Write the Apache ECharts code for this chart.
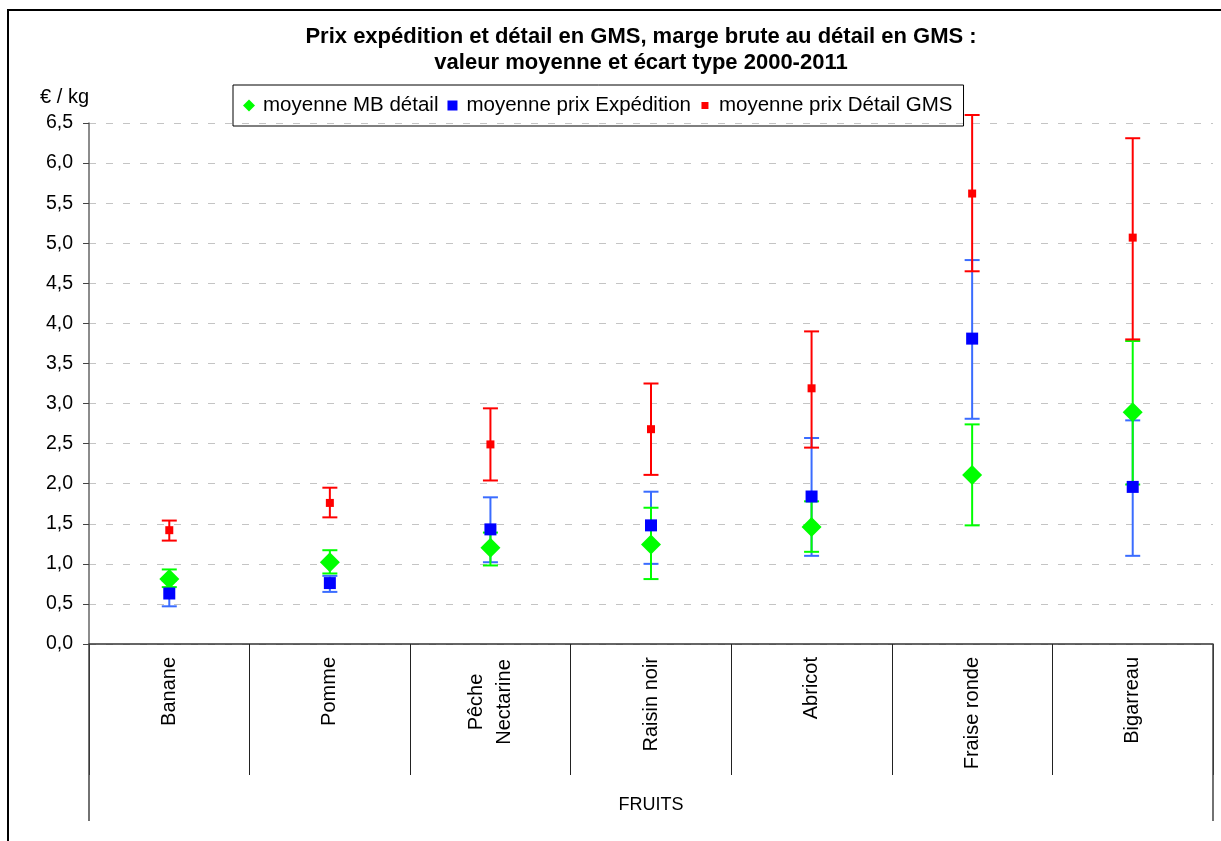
<!DOCTYPE html>
<html><head><meta charset="utf-8">
<script src="https://cdn.jsdelivr.net/npm/echarts@6/dist/echarts.min.js"></script>
<style>html,body{margin:0;padding:0;background:#fff}#c{width:1221px;height:841px}</style>
</head><body><div id="c"></div>
<script>
const categories = ['Banane', 'Pomme', 'Pêche\nNectarine', 'Raisin noir', 'Abricot', 'Fraise ronde', 'Bigarreau'];
const groupLabel = ['FRUITS'];
const yTicks = ['0,0','0,5','1,0','1,5','2,0','2,5','3,0','3,5','4,0','4,5','5,0','5,5','6,0','6,5'];

const mbMean = [0.81, 1.02, 1.20, 1.24, 1.46, 2.11, 2.89];
const mbLow  = [0.71, 0.88, 0.98, 0.81, 1.15, 1.48, 1.99];
const mbHigh = [0.93, 1.17, 1.39, 1.70, 1.78, 2.74, 3.78];

const expMean = [0.63, 0.76, 1.43, 1.48, 1.84, 3.81, 1.96];
const expLow  = [0.47, 0.65, 1.02, 1.00, 1.10, 2.81, 1.10];
const expHigh = [0.79, 0.85, 1.83, 1.90, 2.57, 4.79, 2.79];

const detMean = [1.42, 1.76, 2.49, 2.68, 3.19, 5.62, 5.07];
const detLow  = [1.29, 1.58, 2.04, 2.11, 2.45, 4.65, 3.80];
const detHigh = [1.54, 1.95, 2.94, 3.25, 3.90, 6.60, 6.31];

const names = ['moyenne MB détail', 'moyenne prix Expédition', 'moyenne prix Détail GMS'];
const FONT = '"Liberation Sans", Arial, sans-serif';

const chart = echarts.init(document.getElementById('c'), null, {renderer: 'canvas'});

function errSeries(id, low, high, color) {
  return {
    type: 'custom', name: id, silent: true, z: 2,
    data: categories.map((c, i) => [i, low[i], high[i]]),
    encode: {x: 0, y: [1, 2]},
    renderItem: function (params, api) {
      const i = api.value(0);
      const top = api.coord([i, api.value(2)]);
      const bot = api.coord([i, api.value(1)]);
      const hw = 7.5;
      const style = {stroke: color, lineWidth: 2};
      return {type: 'group', children: [
        {type: 'line', shape: {x1: top[0], y1: top[1], x2: bot[0], y2: bot[1]}, style: style},
        {type: 'line', shape: {x1: top[0] - hw, y1: top[1], x2: top[0] + hw, y2: top[1]}, style: style},
        {type: 'line', shape: {x1: bot[0] - hw, y1: bot[1], x2: bot[0] + hw, y2: bot[1]}, style: style}
      ]};
    }
  };
}

function meanSeries(name, vals, symbol, size, color) {
  return {
    type: 'scatter', name: name, z: 3,
    data: categories.map((c, i) => [i, vals[i]]),
    symbol: symbol, symbolSize: size,
    itemStyle: {color: color, opacity: 1},
    emphasis: {disabled: true}
  };
}

const option = {
  animation: false,
  backgroundColor: '#fff',
  textStyle: {fontFamily: FONT},
  title: {
    text: 'Prix expédition et détail en GMS, marge brute au détail en GMS :\nvaleur moyenne et écart type 2000-2011',
    left: 641, top: 24, padding: 0, textAlign: 'center',
    textStyle: {fontFamily: FONT, fontSize: 22, fontWeight: 'bold', lineHeight: 26, color: '#000'}
  },
  legend: {
    left: 233, top: 85,
    padding: [10, 11, 10, 7],
    borderColor: '#000', borderWidth: 1,
    itemWidth: 18, itemHeight: 12, itemGap: 5,
    selectedMode: false,
    textStyle: {fontFamily: FONT, fontSize: 20.5, color: '#000'},
    data: [
      {name: names[0], icon: 'path://M0,0M18,12M9,0L15,6L9,12L3,6Z', itemStyle: {color: '#00ff00'}},
      {name: names[1], icon: 'path://M0,0M18,12M4,1L14,1L14,11L4,11Z', itemStyle: {color: '#0000ff'}},
      {name: names[2], icon: 'path://M0,0M18,12M5.5,2.5L12.5,2.5L12.5,9.5L5.5,9.5Z', itemStyle: {color: '#ff0000'}}
    ]
  },
  grid: {left: 89, right: 8, top: 123, bottom: 197, containLabel: false},
  xAxis: [{
    type: 'category', data: categories, boundaryGap: true, position: 'bottom',
    axisLine: {show: true, lineStyle: {color: '#333', width: 1.5}},
    axisTick: {show: true, interval: 0, length: 131, alignWithLabel: false, lineStyle: {color: '#222', width: 1}},
    axisLabel: {
      interval: 0, rotate: 90, margin: 13, fontFamily: FONT, fontSize: 20, color: '#000', lineHeight: 28,
      formatter: function (v) {
        return v.indexOf('\n') >= 0 ? v.split('\n').map(function (s) { return '{c|' + s + '}'; }).join('\n') : v;
      },
      rich: {c: {width: 90, align: 'center', fontFamily: FONT, fontSize: 20, lineHeight: 28, color: '#000'}}
    },
    splitLine: {show: false}
  }, {
    type: 'category', data: groupLabel, boundaryGap: true, position: 'bottom', gridIndex: 0,
    axisLine: {show: false},
    axisTick: {show: true, interval: 0, length: 177, lineStyle: {color: '#444', width: 1.5}},
    axisLabel: {margin: 152, fontFamily: FONT, fontSize: 18, color: '#000'},
    splitLine: {show: false}
  }],
  yAxis: {
    type: 'value', min: 0, max: 6.5, interval: 0.5,
    name: '€ / kg', nameLocation: 'end', nameGap: 16,
    nameTextStyle: {fontFamily: FONT, fontSize: 20, color: '#000', align: 'right', padding: [0, 0, 0, 0]},
    axisLine: {show: true, lineStyle: {color: '#666', width: 1.5}},
    axisTick: {show: true, length: 6, inside: false, lineStyle: {color: '#444'}},
    axisLabel: {margin: 16, fontFamily: FONT, fontSize: 19.5, color: '#000',
      formatter: function (v) { return yTicks[Math.round(v / 0.5)]; }},
    splitLine: {show: true, lineStyle: {color: '#c4c4c4', width: 1, type: [7, 10]}}
  },
  graphic: [{
    type: 'rect', silent: true, z: -1,
    shape: {x: 8, y: 10, width: 1400, height: 1000},
    style: {fill: null, stroke: '#000', lineWidth: 2}
  }],
  series: [
    errSeries('errExp', expLow, expHigh, '#3a6cff'),
    errSeries('errMB', mbLow, mbHigh, '#00ff00'),
    errSeries('errDet', detLow, detHigh, '#ff0000'),
    meanSeries(names[0], mbMean, 'diamond', 20, '#00ff00'),
    meanSeries(names[1], expMean, 'rect', 12, '#0000ff'),
    meanSeries(names[2], detMean, 'rect', 8, '#ff0000')
  ]
};
chart.setOption(option);
</script>
</body></html>
